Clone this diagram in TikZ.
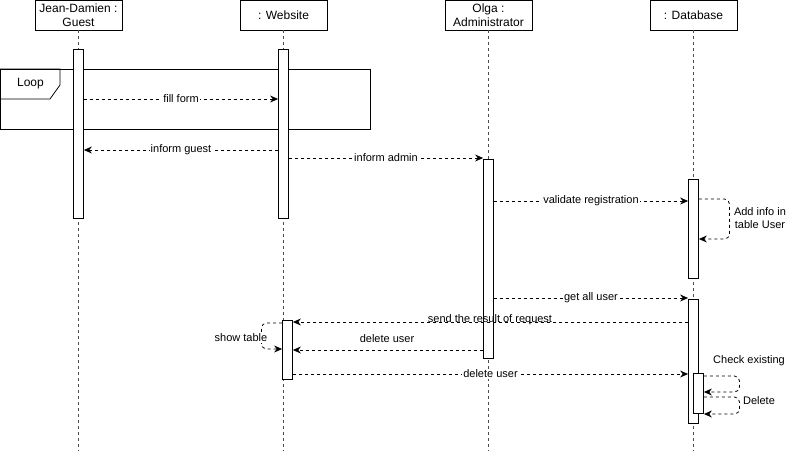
\documentclass[tikz,border=0pt]{standalone}
\usepackage{fontspec}
\setmainfont{Liberation Sans}
\usetikzlibrary{arrows.meta}
\begin{document}
\begin{tikzpicture}[x=1pt,y=-1pt, line width=0.8pt,
  head/.style={draw, fill=white, minimum width=87pt, minimum height=30pt, inner sep=0pt, align=center, font=\fontsize{12}{14}\selectfont},
  act/.style={draw, fill=white, minimum width=10pt, inner sep=0pt, anchor=north},
  life/.style={draw=black!70, dash pattern=on 3pt off 3pt},
  msg/.style={dash pattern=on 3pt off 3pt, -{Stealth[length=8pt,width=7pt]}},
  self/.style={msg, rounded corners=5pt},
  lbl/.style={fill=white, inner sep=1pt, font=\fontsize{11}{13}\selectfont},
  txt/.style={inner sep=0pt, align=center, font=\fontsize{11}{13}\selectfont}]
\useasboundingbox (0,0) rectangle (788,451);
% heads
\node[head] (hG) at (78.5,15) {Jean-Damien :\\Guest};
\node[head] (hW) at (283.5,15) {: Website};
\node[head] (hO) at (488.5,15) {Olga :\\Administrator};
\node[head] (hD) at (693.5,15) {: Database};
% lifeline ends
\coordinate (eG) at (78.5,451);
\coordinate (eW) at (283.5,451);
\coordinate (eO) at (488.5,451);
\coordinate (eD) at (693.5,451);
\draw[life] (hG.south) -- (eG);
\draw[life] (hW.south) -- (eW);
\draw[life] (hO.south) -- (eO);
\draw[life] (hD.south) -- (eD);
% loop frame
\draw (0,69) rectangle (370,129);
\draw (0,69) -- (60,69) -- (60,85) -- (50,99) -- (0,99);
\node[txt, font=\fontsize{12}{14}\selectfont] (loop) at (30.5,84) {Loop};
% activations
\node[act, minimum height=169pt] (aG) at (78.5,49) {};
\node[act, minimum height=169pt] (aW) at (283.5,49) {};
\node[act, minimum height=199pt] (aO) at (488.5,159) {};
\node[act, minimum height=99pt] (aD1) at (693.5,179) {};
\node[act, minimum height=124pt] (aD2) at (693.5,299) {};
\node[act, minimum height=59pt] (aW2) at (287.5,320) {};
\node[act, minimum height=40pt] (aD3) at (698.5,373) {};
% messages
\draw[msg] (aG.east |- 0,99) -- node[lbl] (l1) {fill form} (aW.west |- 0,99);
\draw[msg] (aW.west |- 0,150) -- node[lbl] (l2) {inform guest} (aG.east |- 0,150);
\draw[msg] (aW.east |- 0,158) -- node[lbl] (l3) {inform admin} (aO.west |- 0,158);
\draw[msg] (aO.east |- 0,201) -- node[lbl] (l4) {validate registration} (aD1.west |- 0,201);
\draw[self] (aD1.east |- 0,199) -- (729.5,199) -- (729.5,239) -- (aD1.east |- 0,239);
\node[txt, fill=white, inner sep=1pt] (l5) at (760,218) {Add info in\\table User};
\draw[msg] (aO.east |- 0,298) -- node[lbl] (l6) {get all user} (aD2.west |- 0,298);
\draw[msg] (aD2.west |- 0,322) -- (aW2.east |- 0,322);
\node[txt] (l7) at (490,319.5) {send the result of request};
\draw[self] (aW2.west |- 0,323) -- (261.5,323) -- (261.5,349) -- (aW2.west |- 0,349);
\node[txt, fill=white, inner sep=1pt] (l8) at (241,338) {show table};
\draw[msg] (aO.west |- 0,350) -- (aW2.east |- 0,350);
\node[txt] (l9) at (387,339) {delete user};
\draw[msg] (aW2.east |- 0,374) -- node[lbl] (l10) {delete user} (aD2.west |- 0,374);
\draw[self] (aD3.east |- 0,376) -- (739.5,376) -- (739.5,392) -- (aD3.east |- 0,392);
\node[txt] (l11) at (749,361) {Check existing};
\draw[self] (aD3.east |- 0,397) -- (739.5,397) -- (739.5,414) -- (aD3.east |- 0,414);
\node[txt, fill=white, inner sep=1pt] (l12) at (759,401) {Delete};
\end{tikzpicture}
\end{document}
